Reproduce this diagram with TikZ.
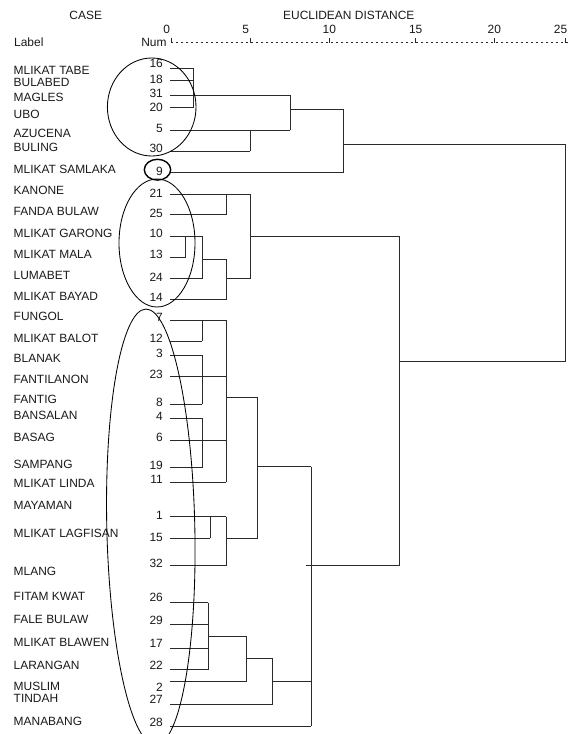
\documentclass[tikz,border=0pt]{standalone}
\usepackage{fontspec}
\setmainfont{Liberation Sans}
\definecolor{dgray}{HTML}{2A2A2A}
\definecolor{tgray}{HTML}{1A1A1A}
\begin{document}
\begin{tikzpicture}[x=1bp,y=-1bp,
  txt/.style={inner sep=0pt,text=tgray,font=\fontsize{12}{12.5}\selectfont,text height=8.6bp,text depth=0pt},
  lab/.style={txt,anchor=west},
  num/.style={txt,anchor=east},
  hdr/.style={txt,anchor=center},
  dl/.style={draw=dgray,line width=0.95bp},
  ell/.style={draw=black,line width=0.85bp}]
\clip (0,0) rectangle (568,734);
\fill[white] (0,0) rectangle (568,734);

% header
\node[hdr] (hcase) at (85.7,15.7) {CASE};
\node[hdr] (hdist) at (348.8,15.7) {EUCLIDEAN DISTANCE};
\node[lab] (hlabel) at (14,42.7) {Label};
\node[num] (hnum) at (166.7,42.7) {Num};
\foreach \v/\nx/\tx in {0/166.7/171,5/245.7/250,10/329.3/329.3,15/415.7/415.7,20/494.3/494.3,25/560.5/565.7}{
  \node[hdr] (ax\v) at (\nx,29.3) {\v};
  \draw[dgray,line width=0.9bp] (\tx,38.3) -- (\tx,42.7);
}
\draw[dgray,line width=1bp,dash pattern=on 1.6bp off 3.4bp] (171,42.7) -- (568,42.7);

% case labels
\foreach \t/\y [count=\i] in {MLIKAT TABE/70,BULABED/82,MAGLES/97,UBO/114,AZUCENA/133,BULING/147,MLIKAT SAMLAKA/169,
  KANONE/190,FANDA BULAW/210.7,MLIKAT GARONG/232.7,MLIKAT MALA/254,LUMABET/275,MLIKAT BAYAD/295.7,
  FUNGOL/316,MLIKAT BALOT/337.7,BLANAK/357.7,FANTILANON/379.3,FANTIG/399.3,BANSALAN/415,BASAG/436.7,
  SAMPANG/464,MLIKAT LINDA/483.3,MAYAMAN/505,MLIKAT LAGFISAN/533.3,MLANG/570.7,
  FITAM KWAT/596,FALE BULAW/619,MLIKAT BLAWEN/641.7,LARANGAN/665,MUSLIM/686,TINDAH/698.3,MANABANG/720.7}{
  \node[lab] (l\i) at (13.5,\y) {\t};
}

% case numbers and leaf lines
\foreach \n/\ny/\ly/\ex in {16/63/68.3/193.3,18/79/80.3/193.3,31/93/95.3/290,20/107/107.7/193.3,
  5/128/130/290,30/148/151/250,9/171/172.7/343.3,
  21/192.7/194/250,25/212.7/214.3/226.7,10/233.3/236/202.3,13/254/257.3/185.7,24/276.7/278.7/202.3,14/296.7/299.3/226.7,
  7/316.7/320/226,12/337.7/341/202.3,3/352.7/355.3/202.3,23/374/376.7/226,8/401.7/404.3/202.3,4/416/418.3/202.3,
  6/436.7/440/226,19/465/467.7/202.3,11/479/482.3/226,1/515/516.7/226,15/536.7/538.3/210,32/563.3/565.7/226,
  26/596.7/602.7/208.3,29/620/624.3/208.3,17/642.7/648/208.3,22/665/669.5/208.3,2/686.7/681.2/246.5,
  27/699/704/272.5,28/721.7/726/311}{
  \node[num] (n\n) at (163,\ny) {\n};
  \coordinate (s\n) at (170,\ly);
  \coordinate (e\n) at (\ex,\ly);
  \draw[dl] (s\n) -- (e\n);
}

% merges: cluster A
\draw[dl] (193.3,68.3) -- (193.3,107.7);
\draw[dl] (250,130) -- (250,151);
\draw[dl] (290,95.3) -- (290,130);
\draw[dl] (290,109) -- (343.3,109);
\draw[dl] (343.3,109) -- (343.3,172.7);
\draw[dl] (343.3,144.3) -- (565.7,144.3) -- (565.7,361.3) -- (399.3,361.3);

% cluster B
\draw[dl] (226.7,194) -- (226.7,214.3);
\draw[dl] (185.7,236) -- (185.7,257.3);
\draw[dl] (202.3,236) -- (202.3,278.7);
\draw[dl] (202.3,259) -- (226.7,259);
\draw[dl] (226.7,259) -- (226.7,299.3);
\draw[dl] (226.7,278.7) -- (250,278.7);
\draw[dl] (250,194) -- (250,278.7);
\draw[dl] (250,236) -- (399.3,236);
\draw[dl] (399.3,236) -- (399.3,565.7);

% cluster C
\draw[dl] (202.3,320) -- (202.3,341);
\draw[dl] (202.3,355.3) -- (202.3,404.3);
\draw[dl] (202.3,418.3) -- (202.3,467.7);
\draw[dl] (226,320) -- (226,482.3);
\draw[dl] (226,397.7) -- (257.7,397.7);
\draw[dl] (210,516.7) -- (210,538.3);
\draw[dl] (226,516.7) -- (226,565.7);
\draw[dl] (226,538.3) -- (257.7,538.3);
\draw[dl] (257.7,397.7) -- (257.7,538.3);
\draw[dl] (257.7,466.7) -- (311,466.7);
\draw[dl] (306,565.7) -- (399.3,565.7);

% cluster D
\draw[dl] (208.3,602.7) -- (208.3,669.5);
\draw[dl] (208.3,636.8) -- (246.5,636.8);
\draw[dl] (246.5,636.8) -- (246.5,681.2);
\draw[dl] (246.5,658.8) -- (272.5,658.8);
\draw[dl] (272.5,658.8) -- (272.5,704);
\draw[dl] (272.5,681.7) -- (311,681.7);
\draw[dl] (311,466.7) -- (311,726);

% ellipses
\draw[ell] (151.7,107) ellipse [x radius=44.3, y radius=49];
\draw[ell,line width=1.4bp] (157.5,169.7) ellipse [x radius=13.2, y radius=10.4];
\draw[ell] (157,243) ellipse [x radius=38, y radius=64];
\draw[ell,rotate around={1.3:(150.8,527)}] (150.8,527) ellipse [x radius=44, y radius=218];
\end{tikzpicture}
\end{document}
